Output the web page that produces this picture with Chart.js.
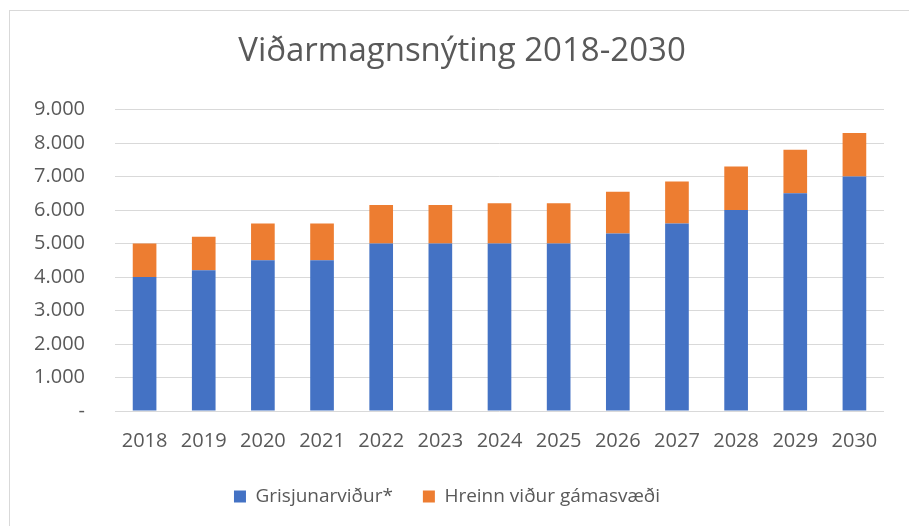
<!DOCTYPE html>
<html>
<head>
<meta charset="utf-8">
<script src="https://cdn.jsdelivr.net/npm/chart.js@4"></script>
<style>
  html, body { margin: 0; padding: 0; background: #fff; overflow: hidden; }
  #frame { position: absolute; left: 9px; top: 10px; width: 1000px; height: 1000px; border: 1px solid #d9d9d9; }
  #wrap { position: absolute; left: 0; top: 0; width: 909px; height: 526px; }
</style>
</head>
<body>
<div id="frame"></div>
<div id="wrap"><canvas id="vidurChart"></canvas></div>
<script>
const years = ['2018', '2019', '2020', '2021', '2022', '2023', '2024', '2025', '2026', '2027', '2028', '2029', '2030'];
const grisjun = [4000, 4200, 4500, 4500, 5000, 5000, 5000, 5000, 5300, 5600, 6000, 6500, 7000];
const hreinn = [1000, 1000, 1100, 1100, 1150, 1150, 1200, 1200, 1250, 1250, 1300, 1300, 1300];

const grey = '#595959';
const fontFam = '"Open Sans", "Noto Sans", sans-serif';

// islenskt snid: 9.000 og "-" fyrir nuell
function fmt(v) {
    if (v === 0) return '-';
    return String(v).replace(/\B(?=(\d{3})+(?!\d))/g, '.');
}

// faerir titilinn adeins til haegri
const titleShift = {
    id: 'titleShift',
    afterLayout(chart) {
        const t = chart.titleBlock;
        if (t) { t.left += 15; t.right += 15; }
    }
};

const ctx = document.getElementById('vidurChart').getContext('2d');

new Chart(ctx, {
    type: 'bar',
    data: {
        labels: years,
        datasets: [{
            label: 'Grisjunarviður*',
            data: grisjun,
            backgroundColor: '#4472C4',
            categoryPercentage: 1,
            barPercentage: 0.4
        }, {
            label: 'Hreinn viður gámasvæði',
            data: hreinn,
            backgroundColor: '#ED7D31',
            categoryPercentage: 1,
            barPercentage: 0.4
        }]
    },
    options: {
        responsive: true,
        maintainAspectRatio: false,
        animation: false,
        layout: { padding: { left: 10, right: 25, top: 0, bottom: 10 } },
        plugins: {
            title: {
                display: true,
                text: 'Viðarmagnsnýting 2018-2030',
                color: grey,
                font: { family: fontFam, size: 33, weight: 'normal' },
                padding: { top: 32, bottom: 38 }
            },
            legend: {
                position: 'bottom',
                labels: {
                    color: grey,
                    boxWidth: 12,
                    boxHeight: 12,
                    padding: 30,
                    font: { family: fontFam, size: 19 }
                }
            },
            tooltip: { enabled: false }
        },
        scales: {
            x: {
                stacked: true,
                grid: { display: false },
                border: { display: false },
                afterFit: function (scale) { scale.height = 46; },
                ticks: { color: grey, font: { family: fontFam, size: 20 }, padding: 10, maxRotation: 0 }
            },
            y: {
                stacked: true,
                min: 0,
                max: 9000,
                grid: { color: '#d9d9d9', drawTicks: false },
                border: { display: false },
                afterFit: function (scale) { scale.width = 105; },
                ticks: {
                    stepSize: 1000,
                    color: grey,
                    padding: 30,
                    font: { family: fontFam, size: 20 },
                    callback: function (v) { return fmt(v); }
                }
            }
        }
    },
    plugins: [titleShift]
});
</script>
</body>
</html>
